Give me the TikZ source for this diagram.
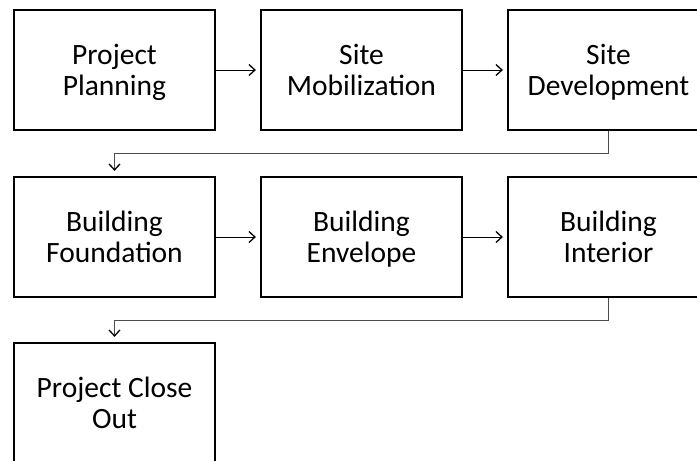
\documentclass[tikz,border=0pt]{standalone}
\usepackage{fontspec}
\setmainfont{Carlito}
\usetikzlibrary{arrows.meta}
% two-line label with a fixed first-line height and last-line depth,
% so every label sits at the same height whatever its letters
\newcommand\twolines[2]{\rule{0pt}{21.7pt}#1\\
  \raisebox{0pt}[\height][0pt]{#2}\rule[-2.7pt]{0pt}{2.7pt}}
\tikzset{
  stage/.style={draw=black, line width=2.2pt, fill=white, minimum width=201pt,
    minimum height=120pt, inner sep=0pt, align=center,
    font=\fontsize{29.5}{31}\selectfont},
  tip/.style={-{Straight Barb[length=6pt,width=11pt,line width=1.3pt,color=black]}},
  flow/.style={draw=black, line width=1pt, tip, shorten >=4pt},
  wrap/.style={draw=black!70, line width=1pt, tip, shorten >=5pt}
}
\begin{document}
\begin{tikzpicture}[x=1pt,y=1pt]
  \useasboundingbox (0,0) rectangle (697,-461);
  \clip (0,0) rectangle (697,-461);
  \fill[white] (0,0) rectangle (697,-461);

  % first row
  \node[stage] (plan) at (114.5,-70) {\twolines{Project}{Planning}};
  \node[stage] (mob)  at (361.5,-70) {\twolines{Site}{Mobilization}};
  \node[stage] (dev)  at (608.5,-70) {\twolines{Site}{Development}};
  % second row
  \node[stage] (found) at (114.5,-237) {\twolines{Building}{Foundation}};
  \node[stage] (env)   at (361.5,-237) {\twolines{Building}{Envelope}};
  \node[stage] (inter) at (608.5,-237) {\twolines{Building}{Interior}};
  % third row
  \node[stage] (close) at (114.5,-403) {\twolines{Project Close}{Out}};

  % connectors within a row
  \draw[flow] (plan.east) -- (mob.west);
  \draw[flow] (mob.east) -- (dev.west);
  \draw[flow] (found.east) -- (env.west);
  \draw[flow] (env.east) -- (inter.west);

  % wrap-around connectors to the next row
  \coordinate (turnA) at (0,-153);
  \coordinate (turnB) at (0,-320);
  \draw[wrap] (dev.south) |- (turnA -| found.north) -- (found.north);
  \draw[wrap] (inter.south) |- (turnB -| close.north) -- (close.north);
\end{tikzpicture}
\end{document}
